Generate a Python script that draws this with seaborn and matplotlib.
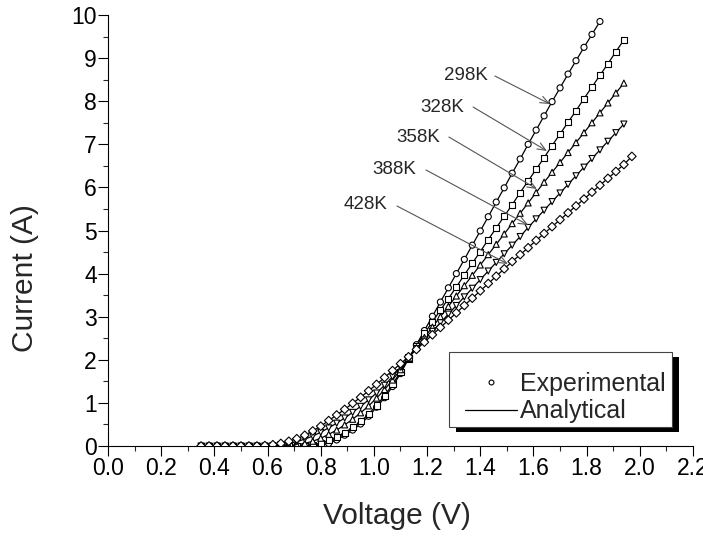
import matplotlib
matplotlib.use("Agg")
import matplotlib.pyplot as plt
from matplotlib.lines import Line2D
from matplotlib.patches import Rectangle
from matplotlib.ticker import MultipleLocator
import pandas as pd
import seaborn as sns

# voltage sweep (V) and measured current (A) per temperature
voltage = [0.35, 0.38, 0.41, 0.44, 0.47, 0.50, 0.53, 0.56, 0.59, 0.62,
           0.65, 0.68, 0.71, 0.74, 0.77, 0.80, 0.83, 0.86, 0.89, 0.92,
           0.95, 0.98, 1.01, 1.04, 1.07, 1.10, 1.13, 1.16, 1.19, 1.22,
           1.25, 1.28, 1.31, 1.34, 1.37, 1.40, 1.43, 1.46, 1.49, 1.52,
           1.55, 1.58, 1.61, 1.64, 1.67, 1.70, 1.73, 1.76, 1.79, 1.82,
           1.85, 1.88, 1.91, 1.94, 1.97, 2.00]

current_298 = [0, 0, 0, 0, 0, 0, 0, 0, 0, 0, 0, 0, 0, 0,
               0.01, 0.02, 0.06, 0.14, 0.25, 0.37, 0.51, 0.69, 0.90, 1.12,
               1.38, 1.68, 2.02, 2.35, 2.68, 3.01, 3.34, 3.67, 4.00, 4.33,
               4.66, 4.99, 5.32, 5.66, 5.99, 6.33, 6.66, 7.00, 7.33, 7.66,
               7.99, 8.31, 8.63, 8.94, 9.25, 9.55, 9.85]
current_328 = [0, 0, 0, 0, 0, 0, 0, 0, 0, 0, 0, 0, 0,
               0.01, 0.03, 0.07, 0.13, 0.21, 0.31, 0.43, 0.57, 0.74, 0.94,
               1.17, 1.43, 1.72, 2.03, 2.33, 2.61, 2.88, 3.15, 3.42, 3.69,
               3.97, 4.24, 4.51, 4.79, 5.06, 5.33, 5.60, 5.88, 6.15, 6.42,
               6.69, 6.97, 7.24, 7.51, 7.78, 8.06, 8.33, 8.60, 8.87, 9.15,
               9.42]
current_358 = [0, 0, 0, 0, 0, 0, 0, 0, 0, 0, 0,
               0.01, 0.03, 0.06, 0.11, 0.18, 0.27, 0.37, 0.49, 0.62, 0.77,
               0.93, 1.11, 1.31, 1.53, 1.77, 2.03, 2.28, 2.52, 2.76, 3.00,
               3.24, 3.48, 3.72, 3.96, 4.20, 4.44, 4.68, 4.92, 5.16, 5.40,
               5.64, 5.88, 6.12, 6.35, 6.58, 6.81, 7.04, 7.27, 7.50, 7.73,
               7.96, 8.19, 8.42]
current_388 = [0, 0, 0, 0, 0, 0, 0, 0, 0,
               0.01, 0.03, 0.06, 0.10, 0.16, 0.23, 0.32, 0.42, 0.53, 0.65,
               0.78, 0.92, 1.07, 1.23, 1.41, 1.61, 1.83, 2.05, 2.26, 2.46,
               2.66, 2.86, 3.06, 3.26, 3.46, 3.66, 3.86, 4.06, 4.26, 4.46,
               4.66, 4.86, 5.07, 5.27, 5.47, 5.67, 5.87, 6.07, 6.27, 6.47,
               6.67, 6.87, 7.07, 7.27, 7.47]
current_428 = [0, 0, 0, 0, 0, 0, 0, 0,
               0.01, 0.03, 0.06, 0.11, 0.17, 0.25, 0.35, 0.46, 0.59, 0.72,
               0.85, 0.99, 1.13, 1.28, 1.43, 1.59, 1.75, 1.91, 2.07, 2.24,
               2.41, 2.58, 2.75, 2.92, 3.09, 3.26, 3.43, 3.60, 3.77, 3.94,
               4.11, 4.28, 4.44, 4.60, 4.77, 4.93, 5.09, 5.25, 5.41, 5.57,
               5.73, 5.89, 6.05, 6.21, 6.37, 6.53, 6.72]

temps = ["298K", "328K", "358K", "388K", "428K"]
currents = [current_298, current_328, current_358, current_388, current_428]
markers = {"298K": "o", "328K": "s", "358K": "^", "388K": "v", "428K": "D"}

frames = []
for t, cur in zip(temps, currents):
    frames.append(pd.DataFrame({"Voltage": voltage[:len(cur)],
                                "Current": cur, "Temp": t}))
df = pd.concat(frames, ignore_index=True)

sns.set_style("ticks")
plt.rcParams["font.family"] = ["Liberation Sans", "DejaVu Sans"]

fig, ax = plt.subplots(figsize=(7.03, 5.36), dpi=100)
fig.subplots_adjust(left=0.1536, right=0.9858, bottom=0.1679, top=0.972)

# analytical curves
sns.lineplot(data=df, x="Voltage", y="Current", units="Temp", estimator=None,
             color="black", linewidth=0.9, sort=False, ax=ax, zorder=2)
# experimental points
sns.scatterplot(data=df, x="Voltage", y="Current", style="Temp",
                markers=markers, s=19, color="white", edgecolor="black",
                linewidth=0.8, legend=False, ax=ax, zorder=3)

ax.set_xlim(0, 2.2)
ax.set_ylim(0, 10)
ax.xaxis.set_major_locator(MultipleLocator(0.2))
ax.xaxis.set_minor_locator(MultipleLocator(0.1))
ax.yaxis.set_major_locator(MultipleLocator(1))
ax.yaxis.set_minor_locator(MultipleLocator(0.5))
ax.xaxis.set_major_formatter(matplotlib.ticker.FormatStrFormatter("%.1f"))
ax.tick_params(which="major", direction="out", length=7, width=0.8,
               labelsize=16.5, pad=1, colors="black")
ax.tick_params(which="minor", direction="out", length=3.5, width=0.8)
sns.despine(ax=ax)
for sp in ["left", "bottom"]:
    ax.spines[sp].set_linewidth(0.8)
    ax.spines[sp].set_color("black")

ax.set_xlabel("Voltage (V)", fontsize=21.5)
ax.set_ylabel("Current (A)", fontsize=21.5)
ax.xaxis.set_label_coords(0.494, -0.13)
ax.yaxis.set_label_coords(-0.118, 0.39)

# temperature labels with arrows
labels = [("298K", (1.346, 8.585), (1.455, 8.585), (1.662, 7.935)),
          ("328K", (1.256, 7.865), (1.373, 7.865), (1.651, 6.845)),
          ("358K", (1.166, 7.169), (1.282, 7.169), (1.613, 5.963)),
          ("388K", (1.076, 6.404), (1.196, 6.404), (1.580, 5.128)),
          ("428K", (0.970, 5.592), (1.087, 5.568), (1.504, 4.223))]
for name, txt, tail, tip in labels:
    ax.text(txt[0], txt[1], name, fontsize=13.5, ha="center", va="center")
    ax.annotate("", xy=tip, xytext=tail,
                arrowprops=dict(arrowstyle="->,head_length=0.6,head_width=0.25",
                                color="#555555", lw=0.8,
                                shrinkA=0, shrinkB=0))

# legend box with solid shadow
ax.add_patch(Rectangle((0.595, 0.0324), 0.381, 0.174, transform=ax.transAxes,
                       facecolor="black", edgecolor="none", zorder=4))
ax.add_patch(Rectangle((0.583, 0.044), 0.381, 0.174, transform=ax.transAxes,
                       facecolor="white", edgecolor="#444444", lw=0.8,
                       zorder=4.5))
handles = [Line2D([], [], marker="o", linestyle="none", markersize=3.5,
                  markerfacecolor="white", markeredgecolor="black",
                  markeredgewidth=0.8),
           Line2D([], [], color="black", linewidth=0.9)]
leg = ax.legend(handles, ["Experimental", "Analytical"], loc="center left",
                bbox_to_anchor=(0.610, 0.1125), frameon=False, fontsize=18,
                handlelength=2.08, handletextpad=0.12, labelspacing=0.15,
                borderpad=0, borderaxespad=0)
leg.set_zorder(5)

fig.savefig("out.png", dpi=100)
